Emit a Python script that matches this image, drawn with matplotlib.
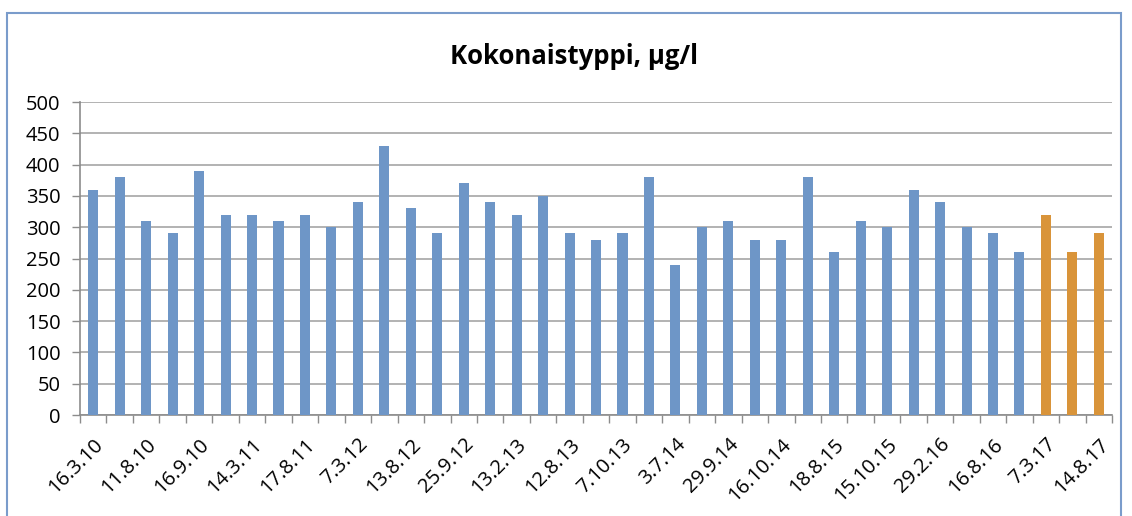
import matplotlib
matplotlib.use("Agg")
import matplotlib.pyplot as plt
import numpy as np
from matplotlib.patches import Rectangle

# Kokonaistyppi measurements (ug/l), one bar per sampling date
dates = ["16.3.10", "", "11.8.10", "", "16.9.10", "", "14.3.11", "", "17.8.11", "",
         "7.3.12", "", "13.8.12", "", "25.9.12", "", "13.2.13", "", "12.8.13", "",
         "7.10.13", "", "3.7.14", "", "29.9.14", "", "16.10.14", "", "18.8.15", "",
         "15.10.15", "", "29.2.16", "", "16.8.16", "", "7.3.17", "", "14.8.17"]
values = [360, 380, 310, 290, 390, 320, 320, 310, 320, 300,
          340, 430, 330, 290, 370, 340, 320, 350, 290, 280,
          290, 380, 240, 300, 310, 280, 280, 380, 260, 310,
          300, 360, 340, 300, 290, 260, 320, 260, 290]
n_recent = 3  # last samples drawn in orange

plt.rcParams['font.family'] = ['Open Sans', 'DejaVu Sans']

fig = plt.figure(figsize=(11.32, 5.16), dpi=100)
ax = fig.add_axes([0.0707, 0.1957, 0.9117, 0.6066])

x = np.arange(len(values))
colors = ['#6E96C7'] * (len(values) - n_recent) + ['#D9943A'] * n_recent
ax.bar(x, values, width=0.38, color=colors, zorder=3)

ax.set_xlim(-0.5, len(values) - 0.5)
ax.set_ylim(0, 500)
ax.set_yticks(np.arange(0, 501, 50))
ax.tick_params(axis='y', labelsize=14.5, length=6, color='#8C8C8C', width=1, pad=8)
ax.yaxis.grid(True, color='#A6A6A6', linewidth=1.2, zorder=0)

# category boundary ticks, labels on every other bar
ax.set_xticks(np.arange(-0.5, len(values), 1.0), minor=True)
ax.tick_params(axis='x', which='minor', length=6, color='#8C8C8C', width=1)
ax.set_xticks(x)
ax.set_xticklabels(dates, rotation=45, ha='right', rotation_mode='anchor', fontsize=14.5)
ax.tick_params(axis='x', which='major', length=0, pad=14)

for side in ['top', 'right']:
    ax.spines[side].set_visible(False)
for side in ['left', 'bottom']:
    ax.spines[side].set_color('#8C8C8C')
    ax.spines[side].set_linewidth(1.2)

fig.text(0.507, 0.891, "Kokonaistyppi, µg/l", ha='center', va='center',
         fontsize=18.5, fontweight='bold')

# outer frame
fig.patches.append(Rectangle((0.006, -0.01), 0.984, 0.985, transform=fig.transFigure,
                             fill=False, edgecolor='#7A9CCB', linewidth=1.5))

fig.savefig("out.png", dpi=100)
